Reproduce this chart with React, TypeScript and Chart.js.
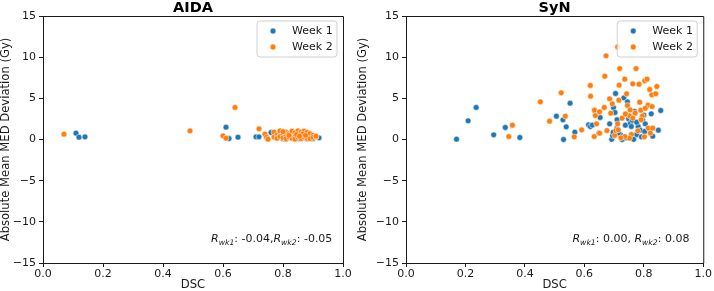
import React, { useEffect, useRef } from "react";
import { Chart, registerables } from "chart.js";
Chart.register(...registerables);

// ---------- data ----------
const seriesLabels = ["Week 1", "Week 2"];
const seriesColors = ["#1f77b4", "#ff7f0e"];
const xTickValues = [0, 0.2, 0.4, 0.6, 0.8, 1.0];
const yTickValues = [-15, -10, -5, 0, 5, 10, 15];
const panelTitles = ["AIDA", "SyN"];
const axisTitleX = "DSC";
const axisTitleY = "Absolute Mean MED Deviation (Gy)";

// AIDA
const aidaWk1X = [0.11, 0.12, 0.14, 0.61, 0.62, 0.65, 0.71, 0.72, 0.76, 0.78, 0.8, 0.81, 0.83, 0.84, 0.85, 0.86, 0.87, 0.88, 0.89, 0.9, 0.92];
const aidaWk1Y = [0.77, 0.28, 0.32, 1.5, 0.12, 0.28, 0.32, 0.32, 0.85, 0.2, 0.1, 0.05, 0.3, 0.15, 0.1, 0.35, 0.2, 0.08, 0.25, 0.12, 0.2];
const aidaWk2X = [0.07, 0.49, 0.6, 0.61, 0.64, 0.72, 0.74, 0.745, 0.75,
  0.77, 0.77, 0.78, 0.78, 0.79, 0.79, 0.79, 0.8, 0.8, 0.81, 0.81, 0.81, 0.82, 0.82, 0.83, 0.83, 0.83,
  0.84, 0.84, 0.84, 0.85, 0.85, 0.85, 0.86, 0.86, 0.86, 0.87, 0.87, 0.87, 0.88, 0.88, 0.88, 0.89, 0.89,
  0.89, 0.9, 0.9, 0.91, 0.91, 0.8, 0.82, 0.845, 0.865, 0.875, 0.855];
const aidaWk2Y = [0.65, 1.05, 0.45, 0.16, 3.9, 1.3, 0.65, 0.28, 0.04,
  0.9, 0.3, 0.55, 0.15, 0.8, 1.05, 0.35, 0.6, 0.2, 0.45, 0.9, 0.1, 0.3, 0.7, 0.5, 1.0, 0.15,
  0.8, 0.35, 0.05, 0.6, 1.05, 0.25, 0.9, 0.45, 0.1, 0.7, 0.3, 1.0, 0.55, 0.15, 0.85, 0.4, 0.7,
  0.1, 0.5, 0.25, 0.3, 0.4, 0.95, 0.5, 0.6, 0.65, 0.5, 0.4];

// SyN
const synWk1X = [0.17, 0.209, 0.236, 0.295, 0.334, 0.383, 0.506, 0.528, 0.53, 0.539, 0.552, 0.568, 0.614, 0.62, 0.627,
  0.653, 0.685, 0.692, 0.727, 0.766, 0.695, 0.698, 0.703, 0.705, 0.733, 0.738, 0.745, 0.749, 0.755, 0.761, 0.769,
  0.776, 0.781, 0.788, 0.796, 0.8, 0.805, 0.825, 0.83, 0.849, 0.857, 0.709, 0.722, 0.649, 0.697, 0.776, 0.758,
  0.792, 0.803, 0.71, 0.74, 0.715];
const synWk1Y = [0.04, 2.27, 3.89, 0.57, 1.46, 0.24, 2.83, 2.39, 0.0, 1.54, 4.41, 0.89, 1.78, 1.58, 1.75,
  2.67, 1.9, 0.02, 0.0, 0.02, 0.45, 3.89, 3.28, 5.59, 5.06, 1.74, 4.57, 2.51, 1.98, 2.35, 3.4,
  0.61, 1.58, 1.13, 2.39, 2.96, 1.9, 3.12, 0.4, 1.13, 3.52, 1.34, 0.57, 0.77, 0.89, 2.1, 1.58,
  0.32, 0.97, 2.4, 0.2, 0.8];
const synWk2X = [0.346, 0.358, 0.452, 0.483, 0.522, 0.536, 0.566, 0.591, 0.62, 0.621, 0.634, 0.637, 0.633, 0.641,
  0.651, 0.651, 0.667, 0.669, 0.673, 0.676, 0.685, 0.689, 0.694, 0.702, 0.706, 0.712, 0.716, 0.717, 0.719, 0.727,
  0.736, 0.742, 0.745, 0.752, 0.758, 0.763, 0.771, 0.774, 0.784, 0.786, 0.79, 0.795, 0.803, 0.811, 0.814, 0.82,
  0.827, 0.844, 0.84, 0.802, 0.815, 0.83, 0.822, 0.805, 0.738, 0.763, 0.78, 0.752, 0.736, 0.723, 0.712, 0.714,
  0.754, 0.791, 0.828];
const synWk2Y = [0.36, 1.74, 4.57, 2.23, 5.67, 2.83, 0.32, 1.17, 6.56, 5.26, 3.56, 2.91, 0.36, 1.9,
  3.36, 0.77, 3.89, 7.69, 10.16, 1.09, 4.94, 3.2, 4.33, 0.49, 1.09, 11.25, 4.78, 6.6, 8.62, 2.59,
  7.33, 5.55, 4.13, 2.87, 0.61, 6.76, 3.2, 8.62, 6.72, 4.53, 3.56, 2.83, 7.13, 7.33, 4.17, 6.07,
  5.43, 6.44, 5.55, 0.32, 1.38, 1.38, 0.77, 3.8, 3.1, 2.6, 1.05, 0.16, 0.36, 0.2, 1.9, 1.17,
  3.6, 2.39, 4.0];

const annotations = [
  ["R", "wk1", ": -0.04,", "R", "wk2", ": -0.05"],
  ["R", "wk1", ": 0.00, ", "R", "wk2", ": 0.08"],
];

const FONT = "'DejaVu Sans', sans-serif";
const INK = "#1a1a1a";

function toPoints(xs: number[], ys: number[]) {
  return xs.map((x, i) => ({ x, y: ys[i] }));
}

function makePlugin(title: string, annot: string[]) {
  return {
    id: "decor",
    afterDatasetsDraw(chart: any) {
      const { ctx, chartArea: ca } = chart;
      ctx.save();
      // full frame (matplotlib spines)
      ctx.strokeStyle = INK;
      ctx.lineWidth = 1;
      ctx.beginPath();
      ctx.moveTo(ca.left, ca.top + 0.5);
      ctx.lineTo(ca.right + 0.5, ca.top + 0.5);
      ctx.lineTo(ca.right + 0.5, ca.bottom);
      ctx.stroke();

      // title
      ctx.fillStyle = "#000";
      ctx.font = `bold 14.5px ${FONT}`;
      ctx.textAlign = "center";
      ctx.textBaseline = "alphabetic";
      ctx.fillText(title, (ca.left + ca.right) / 2, 12);

      // legend
      const bw = 80, bh = 36;
      const bx = ca.right - 6 - bw, by = ca.top + 5;
      ctx.beginPath();
      const r = 3;
      ctx.moveTo(bx + r, by);
      ctx.arcTo(bx + bw, by, bx + bw, by + bh, r);
      ctx.arcTo(bx + bw, by + bh, bx, by + bh, r);
      ctx.arcTo(bx, by + bh, bx, by, r);
      ctx.arcTo(bx, by, bx + bw, by, r);
      ctx.closePath();
      ctx.fillStyle = "rgba(255,255,255,0.8)";
      ctx.fill();
      ctx.strokeStyle = "#d0d0d0";
      ctx.lineWidth = 1;
      ctx.stroke();
      chart.data.datasets.forEach((ds: any, i: number) => {
        const cy = by + 10 + i * 16;
        ctx.beginPath();
        ctx.arc(bx + 16, cy, 2.9, 0, Math.PI * 2);
        ctx.fillStyle = ds.backgroundColor;
        ctx.fill();
        ctx.strokeStyle = "#fff";
        ctx.lineWidth = 0.5;
        ctx.stroke();
        ctx.fillStyle = INK;
        ctx.font = `11px ${FONT}`;
        ctx.textAlign = "left";
        ctx.textBaseline = "middle";
        ctx.fillText(ds.label, bx + 35, cy + 0.5);
      });

      // annotation
      let x = ca.left + 0.56 * (ca.right - ca.left);
      const base = 242;
      ctx.textAlign = "left";
      ctx.textBaseline = "alphabetic";
      ctx.fillStyle = INK;
      annot.forEach((part, i) => {
        const kind = i % 3;
        if (kind === 0) ctx.font = `italic 11px ${FONT}`;
        else if (kind === 1) ctx.font = `italic 7.7px ${FONT}`;
        else ctx.font = `11px ${FONT}`;
        const y = kind === 1 ? base + 2.5 : base;
        ctx.fillText(part, x, y);
        x += ctx.measureText(part).width;
      });
      ctx.restore();
    },
  };
}

function Panel({ idx, left, yWidth, padRight, d1, d2 }: any) {
  const ref = useRef<HTMLCanvasElement>(null);
  useEffect(() => {
    const canvas = ref.current!;
    const axisCommon = {
      grid: { display: true, drawOnChartArea: false, drawTicks: true, tickLength: 4, color: INK, tickColor: INK },
      border: { display: true, color: INK, width: 1 },
    };
    const chart = new Chart(canvas, {
      type: "scatter",
      data: {
        datasets: [
          { label: seriesLabels[0], data: d1, backgroundColor: seriesColors[0], borderColor: "#ffffff", borderWidth: 0.5, pointRadius: 2.9, order: 1 },
          { label: seriesLabels[1], data: d2, backgroundColor: seriesColors[1], borderColor: "#ffffff", borderWidth: 0.5, pointRadius: 2.9, order: 0 },
        ],
      },
      options: {
        animation: false,
        responsive: false,
        devicePixelRatio: 1,
        layout: { padding: { top: 16, right: padRight, left: 0, bottom: 0 } },
        plugins: { legend: { display: false }, tooltip: { enabled: false }, title: { display: false } },
        scales: {
          x: {
            type: "linear",
            min: 0,
            max: 1,
            ...axisCommon,
            afterBuildTicks: (s: any) => { s.ticks = xTickValues.map((v) => ({ value: v })); },
            afterFit: (s: any) => { s.height = 28; },
            ticks: { color: INK, font: { family: FONT, size: 11, lineHeight: 1 }, padding: 2, callback: (v: any) => Number(v).toFixed(1) },
            title: { display: true, text: axisTitleX, color: INK, font: { family: FONT, size: 11.6, lineHeight: 1 }, padding: 0 },
          },
          y: {
            type: "linear",
            min: -15,
            max: 15,
            ...axisCommon,
            afterBuildTicks: (s: any) => { s.ticks = yTickValues.map((v) => ({ value: v })); },
            afterFit: (s: any) => { s.width = yWidth; },
            ticks: { color: INK, font: { family: FONT, size: 11 }, padding: 3, callback: (v: any) => `${v}`.replace("-", "\u2212") },
            title: { display: true, text: axisTitleY, color: INK, font: { family: FONT, size: 11.6, lineHeight: 1 }, padding: 0 },
          },
        },
      } as any,
      plugins: [makePlugin(panelTitles[idx], annotations[idx])],
    });
    return () => chart.destroy();
  }, []);
  return (
    <canvas
      ref={ref}
      width={357}
      height={291}
      style={{ position: "absolute", left, top: 0, width: 357, height: 291 }}
    />
  );
}

export default function App() {
  return (
    <div style={{ position: "fixed", left: 0, top: 0, width: 714, height: 291, background: "#fff", overflow: "hidden" }}>
      <Panel idx={0} left={0} yWidth={43} padRight={14} d1={toPoints(aidaWk1X, aidaWk1Y)} d2={toPoints(aidaWk2X, aidaWk2Y)} />
      <Panel idx={1} left={357} yWidth={49} padRight={9} d1={toPoints(synWk1X, synWk1Y)} d2={toPoints(synWk2X, synWk2Y)} />
    </div>
  );
}
